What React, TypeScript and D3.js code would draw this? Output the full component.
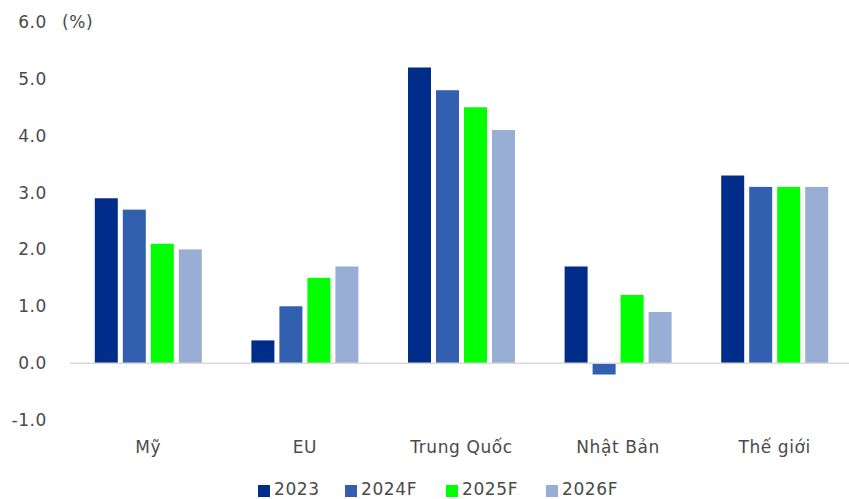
import React from "react";
import * as d3 from "d3";

const categories = ["Mỹ", "EU", "Trung Quốc", "Nhật Bản", "Thế giới"];
const seriesNames = ["2023", "2024F", "2025F", "2026F"];
const seriesColors = ["#002D8A", "#335FB0", "#00FF00", "#99AED5"];
const v2023 = [2.9, 0.4, 5.2, 1.7, 3.3];
const v2024F = [2.7, 1.0, 4.8, -0.2, 3.1];
const v2025F = [2.1, 1.5, 4.5, 1.2, 3.1];
const v2026F = [2.0, 1.7, 4.1, 0.9, 3.1];
const yTicks = [-1, 0, 1, 2, 3, 4, 5, 6];

const seriesValues = [v2023, v2024F, v2025F, v2026F];

const W = 849;
const H = 499;
const left = 70;
const right = 853;
const textColor = "#4a4a4a";
const font = "'DejaVu Sans', sans-serif";
const fs = 17;
const ls = 0.6;

export default function App() {
  const x = d3.scaleBand<string>().domain(categories).range([left, right]).paddingInner(0).paddingOuter(0);
  const y = d3.scaleLinear().domain([-1, 6]).range([420, 22]);
  const step = 28;
  const barW = 23;
  const groupW = step * 3 + barW;
  const legendX = [258, 345, 446, 546];

  return (
    <svg width={W} height={H} style={{ position: "absolute", left: 0, top: 0 }} fontFamily={font}>
      <rect width={W} height={H} fill="#ffffff" />
      {yTicks.map((t) => (
        <text key={t} x={47} y={y(t)} dy="0.35em" textAnchor="end" fontSize={fs} fill={textColor} letterSpacing={ls}>
          {t.toFixed(1)}
        </text>
      ))}
      <text x={62} y={y(6)} dy="0.35em" fontSize={fs} fill={textColor} letterSpacing={ls}>(%)</text>
      {categories.map((c, i) => {
        const cx = (x(c) as number) + x.bandwidth() / 2;
        const x0 = cx - groupW / 2;
        return (
          <g key={c}>
            {seriesValues.map((vals, s) => {
              const yv = y(vals[i]);
              const y0 = y(0);
              return (
                <rect
                  key={s}
                  x={x0 + s * step}
                  y={Math.min(yv, y0)}
                  width={barW}
                  height={Math.abs(yv - y0)}
                  fill={seriesColors[s]}
                />
              );
            })}
            <text x={cx} y={447} dy="0.35em" textAnchor="middle" fontSize={fs} fill={textColor} letterSpacing={ls}>
              {c}
            </text>
          </g>
        );
      })}
      <line x1={left} x2={W} y1={y(0)} y2={y(0)} stroke="#D9D9D9" strokeWidth={1.5} />
      {seriesNames.map((n, s) => (
        <g key={n}>
          <rect x={legendX[s]} y={485} width={12} height={12} fill={seriesColors[s]} />
          <text x={legendX[s] + 16} y={489} dy="0.35em" fontSize={fs} fill={textColor} letterSpacing={ls}>{n}</text>
        </g>
      ))}
    </svg>
  );
}
